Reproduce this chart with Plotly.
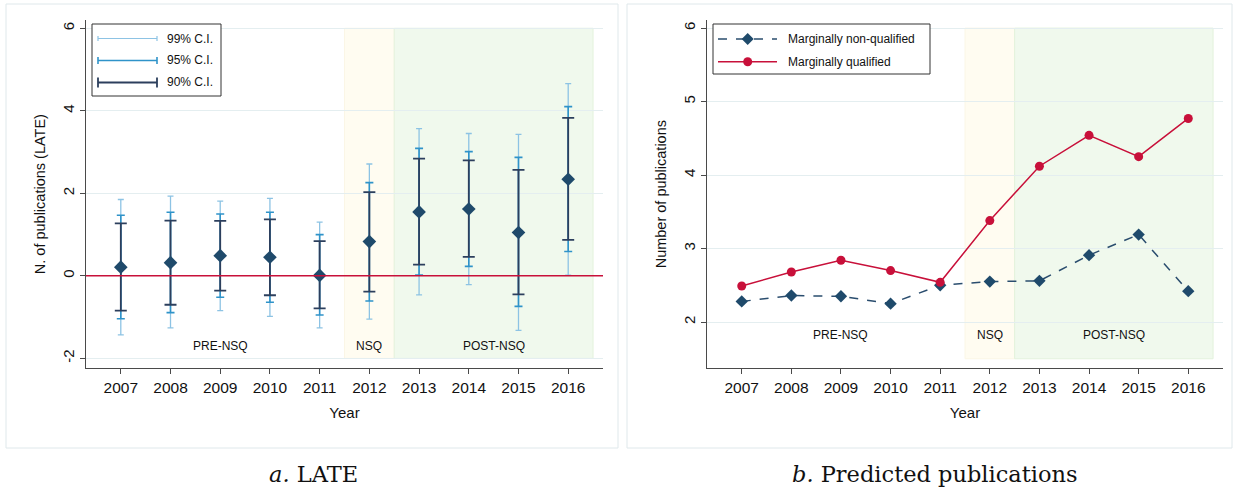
import plotly.graph_objects as go

W, H = 1236, 493

years = [2007, 2008, 2009, 2010, 2011, 2012, 2013, 2014, 2015, 2016]

# Panel a: LATE estimates and confidence intervals
late = [0.21, 0.32, 0.49, 0.45, 0.01, 0.83, 1.55, 1.62, 1.05, 2.34]
ci90_lo = [-0.84, -0.70, -0.36, -0.47, -0.79, -0.38, 0.27, 0.46, -0.45, 0.87]
ci90_hi = [1.27, 1.34, 1.33, 1.37, 0.84, 2.03, 2.84, 2.80, 2.57, 3.83]
ci95_lo = [-1.04, -0.89, -0.52, -0.64, -0.95, -0.61, 0.02, 0.23, -0.74, 0.59]
ci95_hi = [1.47, 1.54, 1.50, 1.54, 1.00, 2.26, 3.09, 3.01, 2.87, 4.10]
ci99_lo = [-1.43, -1.26, -0.84, -0.98, -1.26, -1.05, -0.46, -0.21, -1.32, 0.02]
ci99_hi = [1.85, 1.93, 1.81, 1.88, 1.30, 2.71, 3.57, 3.45, 3.43, 4.66]

# Panel b: predicted publications
non_qualified = [2.28, 2.36, 2.35, 2.25, 2.50, 2.55, 2.56, 2.91, 3.19, 2.42]
qualified = [2.49, 2.68, 2.84, 2.70, 2.54, 3.38, 4.12, 4.54, 4.25, 4.77]

# Tick labels
late_ticks = [-2, 0, 2, 4, 6]
late_ticktext = ["-2", "0", "2", "4", "6"]
pub_ticks = [2, 3, 4, 5, 6]

# Periods
periods = [("PRE-NSQ", 2009.0, None, None), ("NSQ", 2012.0, 2011.5, 2012.5),
           ("POST-NSQ", 2014.5, 2012.5, 2016.5)]
period_fill = {"NSQ": "#fffcf1", "POST-NSQ": "#f0f9ed"}
period_line = {"NSQ": "#fbf6e6", "POST-NSQ": "#e3f2dc"}

C99 = "#8dc3e4"
C95 = "#2f93c9"
C90 = "#2c3f5d"
NAVY = "#1f4a6b"
RED = "#c8103a"
GRID = "#e4eef0"
AX = "#4a4a4a"
FONT = "Liberation Sans, Arial, sans-serif"


def px(x):
    return x / W


def py(y):
    return (H - y) / H


fig = go.Figure()

# CI traces (drawn widest first)
for lo, hi, col, th, wd, name in [(ci99_lo, ci99_hi, C99, 1.3, 3, "99% C.I."),
                                  (ci95_lo, ci95_hi, C95, 1.6, 4, "95% C.I."),
                                  (ci90_lo, ci90_hi, C90, 1.8, 6, "90% C.I.")]:
    fig.add_trace(go.Scatter(
        x=years, y=late, mode="markers", xaxis="x", yaxis="y",
        marker=dict(size=1, color="rgba(0,0,0,0)"),
        error_y=dict(type="data", symmetric=False,
                     array=[h - e for h, e in zip(hi, late)],
                     arrayminus=[e - l for e, l in zip(late, lo)],
                     color=col, thickness=th, width=wd),
        showlegend=False, name=name, hoverinfo="skip"))

fig.add_trace(go.Scatter(x=years, y=late, mode="markers", xaxis="x", yaxis="y",
                         marker=dict(symbol="diamond", size=10.5, color=NAVY),
                         showlegend=False, name="LATE"))

# Panel b traces
fig.add_trace(go.Scatter(x=years, y=non_qualified, mode="lines+markers", xaxis="x2", yaxis="y2",
                         line=dict(color="#2a4d6e", width=1.5, dash="dash"),
                         marker=dict(symbol="diamond", size=9.5, color=NAVY),
                         showlegend=False, name="Marginally non-qualified"))
fig.add_trace(go.Scatter(x=years, y=qualified, mode="lines+markers", xaxis="x2", yaxis="y2",
                         line=dict(color=RED, width=1.5),
                         marker=dict(symbol="circle", size=9, color=RED),
                         showlegend=False, name="Marginally qualified"))

shapes = []
annotations = []

# Panel frames
for x0, x1 in [(6, 618), (627, 1232)]:
    shapes.append(dict(type="rect", xref="paper", yref="paper", x0=px(x0), x1=px(x1),
                       y0=py(448), y1=py(4), line=dict(color="#dfe8eb", width=1),
                       fillcolor="rgba(0,0,0,0)", layer="below"))

# Shaded periods and labels
for xa, ya, ybot, ylab in [("x", "y", -2, -1.69), ("x2", "y2", 1.5, 1.83)]:
    ytop = 6
    for name, xc, a, b in periods:
        if a is not None:
            shapes.append(dict(type="rect", xref=xa, yref=ya, x0=a, x1=b, y0=ybot, y1=ytop,
                               fillcolor=period_fill[name],
                               line=dict(color=period_line[name], width=1), layer="below"))
        annotations.append(dict(x=xc, y=ylab, xref=xa, yref=ya, text=name, showarrow=False,
                                font=dict(family=FONT, size=12, color="#111")))

# zero line
shapes.append(dict(type="line", xref="x domain", yref="y", x0=0, x1=1, y0=0, y1=0,
                   line=dict(color=RED, width=1.5), layer="above"))

# Legend a
shapes.append(dict(type="rect", xref="paper", yref="paper", x0=px(92), x1=px(221),
                   y0=py(96), y1=py(24), line=dict(color="#333", width=1),
                   fillcolor="white", layer="above"))
for yy, col, th, cap, txt in [(38.5, C99, 1.2, 2.5, "99% C.I."), (60.5, C95, 1.6, 3.5, "95% C.I."),
                              (82.5, C90, 1.8, 5, "90% C.I.")]:
    shapes.append(dict(type="line", xref="paper", yref="paper", x0=px(98), x1=px(157),
                       y0=py(yy), y1=py(yy), line=dict(color=col, width=th), layer="above"))
    for xx in (98, 157):
        shapes.append(dict(type="line", xref="paper", yref="paper", x0=px(xx), x1=px(xx),
                           y0=py(yy - cap), y1=py(yy + cap), line=dict(color=col, width=th),
                           layer="above"))
    annotations.append(dict(x=px(165), y=py(yy), xref="paper", yref="paper", text=txt,
                            showarrow=False, xanchor="left", yanchor="middle",
                            font=dict(family=FONT, size=12, color="#111")))

# Legend b
shapes.append(dict(type="rect", xref="paper", yref="paper", x0=px(713), x1=px(930),
                   y0=py(74), y1=py(24), line=dict(color="#333", width=1),
                   fillcolor="white", layer="above"))
shapes.append(dict(type="line", xref="paper", yref="paper", x0=px(718), x1=px(777),
                   y0=py(39), y1=py(39), line=dict(color="#2a4d6e", width=1.5, dash="dash"),
                   layer="above"))
cx, cy, r = 747.7, 39, 6
shapes.append(dict(type="path", xref="paper", yref="paper",
                   path=f"M {px(cx - r)} {py(cy)} L {px(cx)} {py(cy - r)} L {px(cx + r)} {py(cy)} L {px(cx)} {py(cy + r)} Z",
                   fillcolor=NAVY, line=dict(color=NAVY, width=0), layer="above"))
shapes.append(dict(type="line", xref="paper", yref="paper", x0=px(718), x1=px(777),
                   y0=py(61.7), y1=py(61.7), line=dict(color=RED, width=1.5), layer="above"))
shapes.append(dict(type="circle", xref="paper", yref="paper", x0=px(747.7 - 4.5), x1=px(747.7 + 4.5),
                   y0=py(61.7 + 4.5), y1=py(61.7 - 4.5), fillcolor=RED,
                   line=dict(color=RED, width=0), layer="above"))
for yy, txt in [(39, "Marginally non-qualified"), (61.7, "Marginally qualified")]:
    annotations.append(dict(x=px(786), y=py(yy), xref="paper", yref="paper", text=txt,
                            showarrow=False, xanchor="left", yanchor="middle",
                            font=dict(family=FONT, size=12, color="#111")))

# Captions
for xc, txt in [(313, "<i>a.</i> LATE"), (935, "<i>b.</i> Predicted publications")]:
    annotations.append(dict(x=px(xc), y=py(474), xref="paper", yref="paper", text=txt,
                            showarrow=False, xanchor="center", yanchor="middle",
                            font=dict(family="DejaVu Serif, Liberation Serif, serif", size=22.5,
                                      color="#111")))

ydom = [py(368.3), py(20)]
xaxis_common = dict(range=[2006.3, 2016.7], tickvals=years, ticktext=[str(y) for y in years],
                    showline=True, linecolor=AX, linewidth=1.3, ticks="outside", ticklen=5,
                    tickcolor=AX, showgrid=False, zeroline=False,
                    tickfont=dict(family=FONT, size=15.5, color="#111"),
                    title=dict(text="Year", font=dict(family=FONT, size=15, color="#111"), standoff=12))
yaxis_common = dict(showline=True, linecolor=AX, linewidth=1.3, ticks="outside", ticklen=5,
                    tickcolor=AX, showgrid=True, gridcolor=GRID, gridwidth=1, zeroline=False,
                    tickangle=-90, tickfont=dict(family=FONT, size=15, color="#111"))

fig.update_layout(
    width=W, height=H, margin=dict(l=0, r=0, t=0, b=0),
    paper_bgcolor="white", plot_bgcolor="white", showlegend=False,
    xaxis=dict(domain=[px(86), px(603)], anchor="y", **xaxis_common),
    yaxis=dict(domain=ydom, anchor="x", range=[-2.24, 6.2], tickvals=late_ticks,
               ticktext=late_ticktext,
               title=dict(text="N. of publications (LATE)",
                          font=dict(family=FONT, size=14.5, color="#111"), standoff=10),
               **yaxis_common),
    xaxis2=dict(domain=[px(707), px(1223)], anchor="y2", **xaxis_common),
    yaxis2=dict(domain=ydom, anchor="x2", range=[1.37, 6.11], tickvals=pub_ticks,
                title=dict(text="Number of publications",
                           font=dict(family=FONT, size=14.5, color="#111"), standoff=10),
                **yaxis_common),
    shapes=shapes, annotations=annotations,
)

fig.write_html("out.html")
